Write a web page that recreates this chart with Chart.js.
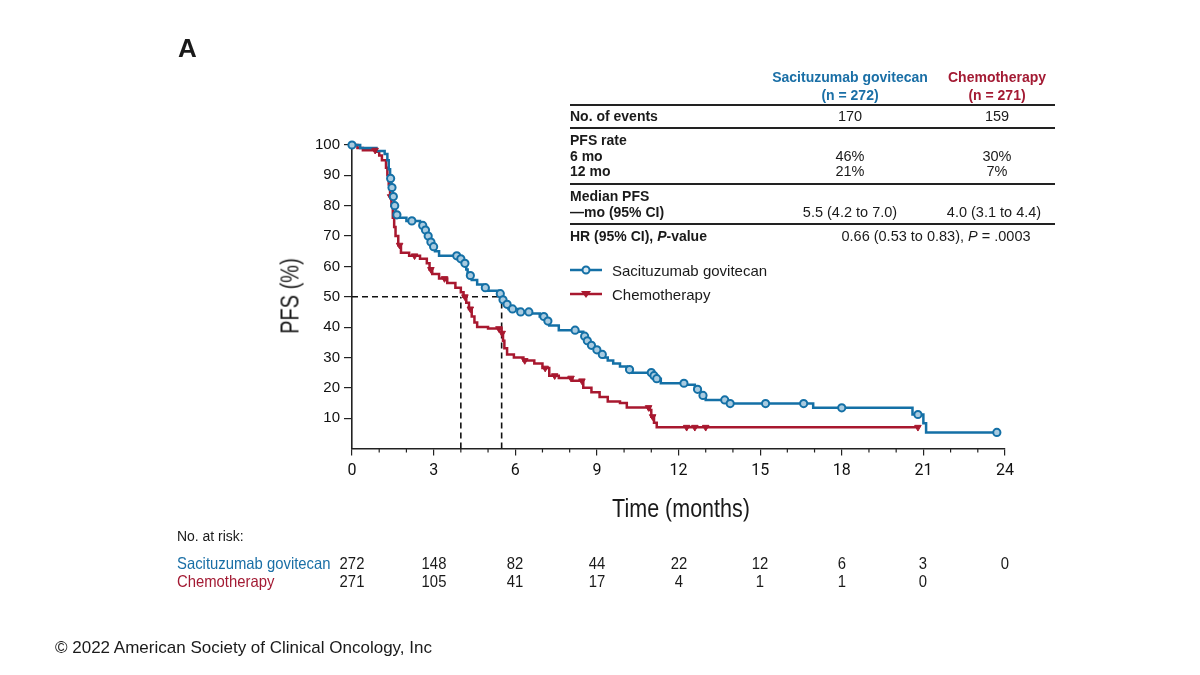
<!DOCTYPE html>
<html>
<head>
<meta charset="utf-8">
<script src="https://cdn.jsdelivr.net/npm/chart.js@4.4.1/dist/chart.umd.min.js"></script>
<style>
  body { margin: 0; background: #fff; }
  #wrap { position: relative; width: 1200px; height: 675px; overflow: hidden; font-family: "Liberation Sans", Arial, sans-serif; color: #1a1a1a; }
  #graficoPFS { position: absolute; left: 0; top: 0; }
  .t { position: absolute; white-space: nowrap; line-height: 1; }
  .c { transform: translate(-50%, -50%); }
  .l { transform: translate(0, -50%); }
  .b { font-weight: bold; }
  .tab { font-size: 14px; }
  .val { font-size: 14.5px; }
  .hd { font-size: 14px; }
  .nl { transform-origin: left center; transform: translate(0, -50%) scaleX(0.9); font-size: 16.5px; }
  .nc { transform: translate(-50%, -50%) scaleX(0.9); font-size: 16.5px; }
  .blue { color: #1a6fa6; }
  .red { color: #a31a33; }
  .rule { position: absolute; left: 570px; width: 485px; height: 1.5px; background: #222; }
</style>
</head>
<body>
<div id="wrap">
  <canvas id="graficoPFS" width="1200" height="675"></canvas>

  <div class="t l b" style="left:178px;top:48px;font-size:26px;">A</div>

  <!-- tabla de resumen -->
  <div class="t c b hd blue" style="left:850px;top:77px;">Sacituzumab govitecan</div>
  <div class="t c b hd blue" style="left:850px;top:95px;">(n = 272)</div>
  <div class="t c b hd red" style="left:997px;top:77px;">Chemotherapy</div>
  <div class="t c b hd red" style="left:997px;top:95px;">(n = 271)</div>
  <div class="rule" style="top:104px;"></div>
  <div class="t l b tab" style="left:570px;top:116px;">No. of events</div>
  <div class="t c val" style="left:850px;top:116px;">170</div>
  <div class="t c val" style="left:997px;top:116px;">159</div>
  <div class="rule" style="top:127px;"></div>
  <div class="t l b tab" style="left:570px;top:140px;">PFS rate</div>
  <div class="t l b tab" style="left:570px;top:156px;">6 mo</div>
  <div class="t l b tab" style="left:570px;top:171px;">12 mo</div>
  <div class="t c val" style="left:850px;top:156px;">46%</div>
  <div class="t c val" style="left:850px;top:171px;">21%</div>
  <div class="t c val" style="left:997px;top:156px;">30%</div>
  <div class="t c val" style="left:997px;top:171px;">7%</div>
  <div class="rule" style="top:183px;"></div>
  <div class="t l b tab" style="left:570px;top:196px;">Median PFS</div>
  <div class="t l b tab" style="left:570px;top:212px;">—mo (95% CI)</div>
  <div class="t c val" style="left:850px;top:212px;">5.5 (4.2 to 7.0)</div>
  <div class="t c val" style="left:994px;top:212px;">4.0 (3.1 to 4.4)</div>
  <div class="rule" style="top:223px;"></div>
  <div class="t l b tab" style="left:570px;top:236px;">HR (95% CI), <i>P</i>-value</div>
  <div class="t c val" style="left:936px;top:236px;">0.66 (0.53 to 0.83), <i>P</i> = .0003</div>

  <!-- leyenda -->
  <div class="t l" style="left:612px;top:270px;font-size:15px;">Sacituzumab govitecan</div>
  <div class="t l" style="left:612px;top:294px;font-size:15px;">Chemotherapy</div>

  <!-- titulos de ejes -->
  <div class="t" style="left:290px;top:296px;font-size:25px;transform:translate(-50%,-50%) rotate(-90deg) scaleX(0.8);">PFS (%)</div>
  <div class="t" style="left:681px;top:508px;font-size:25px;transform:translate(-50%,-50%) scaleX(0.86);">Time (months)</div>

  <!-- numero en riesgo -->
  <div id="riesgo"></div>

  <div class="t l" style="left:55px;top:647px;font-size:17px;">© 2022 American Society of Clinical Oncology, Inc</div>
</div>

<script>
const AZUL = '#1470a6';
const ROJO = '#a8182f';

// Curva Kaplan-Meier sacituzumab govitecan: [mes, PFS %] (escalon hacia el valor en ese mes)
const tiempoSG = [0, 0.3, 0.9, 1.2, 1.3, 1.35, 1.4, 1.45, 1.5, 1.55, 1.6, 1.7, 2.0, 2.5, 2.65, 2.75, 2.85, 2.95, 3.05, 3.2,
  3.9, 4.1, 4.2, 4.25, 4.4, 4.6, 4.8, 5.0, 5.35, 5.5, 5.6, 5.75, 6.1, 6.6, 6.9, 7.1, 7.25, 7.6, 8.3, 8.5,
  8.6, 8.7, 8.9, 9.1, 9.25, 9.4, 9.6, 9.85, 10.1, 10.3, 11.05, 11.15, 11.35, 12.3, 12.6, 12.8, 13.0, 13.8, 16.95, 20.6,
  21.0, 21.1, 23.7];
const pfsSG = [100, 99, 98, 97, 95, 92, 89, 86, 83, 80, 77, 76, 75, 73.5, 72, 70, 68, 66.5, 65, 63.5,
  62.5, 61, 59, 57, 55.5, 54, 53, 52, 51, 49, 47.5, 46, 45, 44.5, 43.5, 42, 40.5, 39, 38.5, 37,
  35.5, 34, 32.5, 31, 30, 29, 28, 27, 26, 25, 24, 23, 21.5, 21, 19.5, 17.5, 16, 14.8, 13.4, 11.2,
  8.3, 5.3, 5.3];

// Curva quimioterapia
const tiempoQT = [0, 0.2, 0.4, 0.9, 1.0, 1.1, 1.25, 1.3, 1.35, 1.4, 1.45, 1.5, 1.55, 1.6, 1.7, 1.8, 2.1, 2.5, 2.75, 2.85,
  2.95, 3.2, 3.5, 3.8, 4.0, 4.1, 4.2, 4.3, 4.4, 4.5, 4.6, 5.0, 5.5, 5.55, 5.6, 5.7, 5.95, 6.3, 6.7, 7.0,
  7.25, 7.6, 8.1, 8.5, 8.8, 9.1, 9.4, 9.85, 10.1, 10.95, 11.0, 11.1, 11.2, 20.8];
const pfsQT = [100, 99, 98.3, 97.8, 96.5, 95, 92.5, 90, 87, 83, 80, 76, 73, 70, 67, 64.5, 63.5, 62.5, 61, 59,
  57.5, 56, 54.5, 53, 51.5, 50, 48, 46, 43.5, 41.5, 40, 39.5, 38, 35.5, 33, 31, 30, 29, 28, 26.5,
  24, 23.2, 22.3, 20, 18.5, 17, 15.5, 15, 13.5, 12.7, 10.5, 8.5, 7, 7];

// Censuras (marcas sobre la curva)
const censuraTiempoSG = [0, 1.42, 1.47, 1.52, 1.57, 1.65, 2.2, 2.6, 2.7, 2.8, 2.9, 3.0, 3.85, 4.0, 4.15, 4.35, 4.9, 5.45,
  5.55, 5.7, 5.9, 6.2, 6.5, 7.05, 7.2, 8.2, 8.55, 8.65, 8.8, 9.0, 9.2, 10.2, 11.0, 11.1, 11.2, 12.2, 12.7, 12.9,
  13.7, 13.9, 15.2, 16.6, 18.0, 20.8, 23.7];
const censuraPfsSG = [100, 89, 86, 83, 80, 77, 75, 73.5, 72, 70, 68, 66.5, 63.5, 62.5, 61, 57, 53, 51,
  49, 47.5, 46, 45, 45, 43.5, 42, 39, 37, 35.5, 34, 32.5, 31, 26, 25, 24, 23, 21.5, 19.5, 17.5,
  16, 14.8, 14.8, 14.8, 13.4, 11.2, 5.3];
const censuraTiempoQT = [0.85, 1.42, 1.75, 2.3, 2.9, 3.4, 4.15, 4.35, 5.4, 5.52, 6.35, 7.1, 7.45, 8.05, 8.45, 10.9, 11.05, 12.3, 12.6, 13.0, 20.8];
const censuraPfsQT = [98.3, 83, 67, 63.5, 59, 56, 50, 46, 39.5, 38, 29, 26.5, 24, 23.2, 22.3, 13.5, 10.5, 7, 7, 7, 7];

// Mediana
const medianaSG = 5.5;
const medianaQT = 4.0;

// Numero en riesgo
const mesesRiesgo = [0, 3, 6, 9, 12, 15, 18, 21, 24];
const riesgoSG = [272, 148, 82, 44, 22, 12, 6, 3, 0];
const riesgoQT = [271, 105, 41, 17, 4, 1, 1, 0];

const aPuntos = (xs, ys) => xs.map((x, i) => ({ x: x, y: ys[i] }));

// marcas menores del eje x cada mes
const ticksMenores = {
  id: 'ticksMenores',
  afterDraw(chart) {
    const ctx = chart.ctx;
    const sx = chart.scales.x;
    const abajo = chart.chartArea.bottom;
    ctx.save();
    ctx.strokeStyle = '#222';
    ctx.lineWidth = 1.2;
    for (let m = 0; m <= 24; m++) {
      if (m % 3 === 0) continue;
      const px = sx.getPixelForValue(m);
      ctx.beginPath();
      ctx.moveTo(px, abajo);
      ctx.lineTo(px, abajo + 4);
      ctx.stroke();
    }
    ctx.restore();
  },
};

// muestras de la leyenda
const leyenda = {
  id: 'leyenda',
  afterDraw(chart) {
    const ctx = chart.ctx;
    ctx.save();
    ctx.lineWidth = 2.5;
    // azul
    ctx.strokeStyle = AZUL;
    ctx.beginPath(); ctx.moveTo(570, 270); ctx.lineTo(602, 270); ctx.stroke();
    ctx.fillStyle = '#d8e8f2';
    ctx.lineWidth = 2;
    ctx.beginPath(); ctx.arc(586, 270, 3.5, 0, Math.PI * 2); ctx.fill(); ctx.stroke();
    // rojo
    ctx.lineWidth = 2.5;
    ctx.strokeStyle = ROJO;
    ctx.beginPath(); ctx.moveTo(570, 294); ctx.lineTo(602, 294); ctx.stroke();
    ctx.fillStyle = ROJO;
    ctx.beginPath(); ctx.moveTo(581, 291); ctx.lineTo(591, 291); ctx.lineTo(586, 298); ctx.closePath(); ctx.fill();
    ctx.restore();
  },
};

const graficoPFS = document.getElementById('graficoPFS');

const kmChart = new Chart(graficoPFS, {
  type: 'line',
  data: {
    datasets: [
      {
        label: 'censura SG',
        data: aPuntos(censuraTiempoSG, censuraPfsSG),
        showLine: false,
        pointStyle: 'circle',
        pointRadius: 3.6,
        pointBorderWidth: 2,
        pointBorderColor: AZUL,
        pointBackgroundColor: '#a9cbe0',
        clip: false,
      },
      {
        label: 'censura QT',
        data: aPuntos(censuraTiempoQT, censuraPfsQT),
        showLine: false,
        pointStyle: 'triangle',
        rotation: 180,
        pointRadius: 3.8,
        pointBorderWidth: 1,
        pointBorderColor: ROJO,
        pointBackgroundColor: ROJO,
        clip: false,
      },
      {
        label: 'Sacituzumab govitecan',
        data: aPuntos(tiempoSG, pfsSG),
        stepped: true,
        borderColor: AZUL,
        borderWidth: 2.5,
        pointRadius: 0,
        fill: false,
        clip: false,
      },
      {
        label: 'Chemotherapy',
        data: aPuntos(tiempoQT, pfsQT),
        stepped: true,
        borderColor: ROJO,
        borderWidth: 2.5,
        pointRadius: 0,
        fill: false,
        clip: false,
      },
      {
        label: 'mediana h',
        data: [{ x: 0, y: 50 }, { x: medianaSG, y: 50 }],
        borderColor: '#111',
        borderWidth: 1.6,
        borderDash: [6, 4],
        pointRadius: 0,
      },
      {
        label: 'mediana QT',
        data: [{ x: medianaQT, y: 0 }, { x: medianaQT, y: 50 }],
        borderColor: '#111',
        borderWidth: 1.6,
        borderDash: [6, 4],
        pointRadius: 0,
      },
      {
        label: 'mediana SG',
        data: [{ x: medianaSG, y: 0 }, { x: medianaSG, y: 50 }],
        borderColor: '#111',
        borderWidth: 1.6,
        borderDash: [6, 4],
        pointRadius: 0,
      },
    ],
  },
  options: {
    responsive: false,
    animation: false,
    devicePixelRatio: 1,
    layout: { padding: { left: 292, right: 195, top: 145, bottom: 186.5 } },
    plugins: { legend: { display: false }, tooltip: { enabled: false } },
    scales: {
      x: {
        type: 'linear',
        min: 0,
        max: 24,
        afterFit: (s) => { s.height = 40; },
        ticks: {
          stepSize: 3,
          color: '#111',
          padding: 6,
          font: { family: 'Roboto, sans-serif', size: 16 },
        },
        grid: { drawOnChartArea: false, tickLength: 7, color: '#222', lineWidth: 1.2 },
        border: { color: '#222', width: 1.6 },
      },
      y: {
        min: 0,
        max: 100,
        afterFit: (s) => { s.width = 60; },
        ticks: {
          stepSize: 10,
          color: '#111',
          padding: 4,
          font: { family: '"Liberation Sans", Arial, sans-serif', size: 15 },
          callback: function (value) {
            return value === 0 ? '' : value;
          },
        },
        grid: {
          drawOnChartArea: false,
          tickLength: 8,
          lineWidth: 1.2,
          color: (ctx) => (ctx.tick && ctx.tick.value === 0 ? 'rgba(0,0,0,0)' : '#222'),
        },
        border: { color: '#222', width: 1.6 },
      },
    },
  },
  plugins: [ticksMenores, leyenda],
});

// tabla de numero en riesgo, alineada con las marcas del eje x
const riesgo = document.getElementById('riesgo');
const sx = kmChart.scales.x;
let html = '<div class="t nl" style="left:177px;top:536px;font-size:15.5px;">No. at risk:</div>';
html += '<div class="t nl blue" style="left:177px;top:563px;">Sacituzumab govitecan</div>';
html += '<div class="t nl red" style="left:177px;top:581px;">Chemotherapy</div>';
mesesRiesgo.forEach((m, i) => {
  const px = sx.getPixelForValue(m);
  html += '<div class="t nc" style="left:' + px + 'px;top:563px;">' + riesgoSG[i] + '</div>';
  if (i < riesgoQT.length) {
    html += '<div class="t nc" style="left:' + px + 'px;top:581px;">' + riesgoQT[i] + '</div>';
  }
});
riesgo.innerHTML = html;
</script>
</body>
</html>
